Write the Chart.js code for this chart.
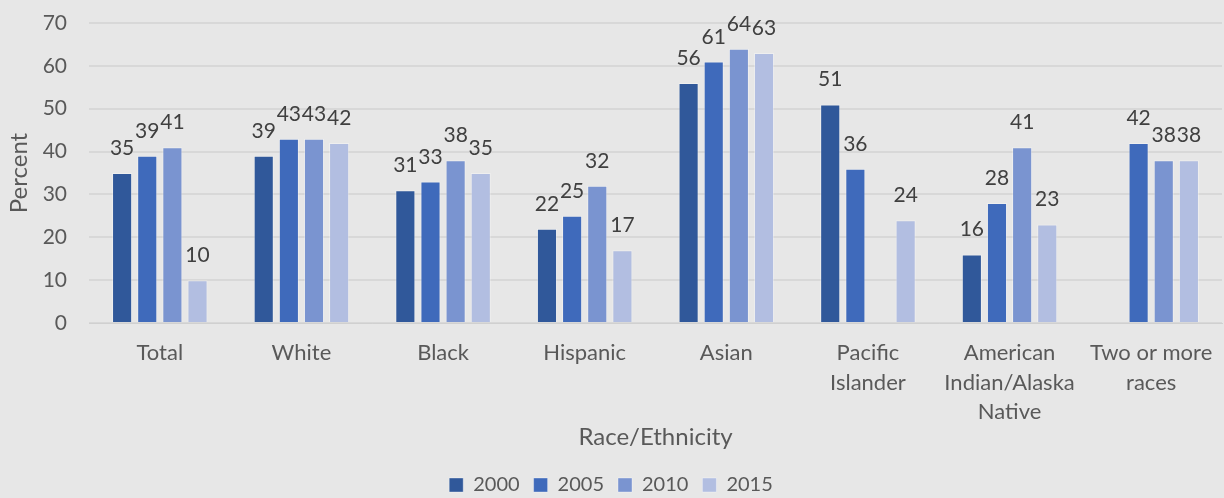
<!DOCTYPE html>
<html lang="en">
<head>
    <meta charset="UTF-8">
    <title>Race/Ethnicity Percent</title>
    <style>
        html, body { margin: 0; padding: 0; background: #e7e7e7; }
        .graph-container { width: 1224px; height: 498px; }
    </style>
</head>
<body>

<div class="graph-container">
    <canvas id="raceChart" width="1224" height="498"></canvas>
</div>

<script src="https://cdn.jsdelivr.net/npm/chart.js"></script>
<script>
    const categories = [
        'Total', 'White', 'Black', 'Hispanic', 'Asian',
        ['Pacific', 'Islander'],
        ['American', 'Indian/Alaska', 'Native'],
        ['Two or more', 'races']
    ];
    const years = ['2000', '2005', '2010', '2015'];
    const values2000 = [35, 39, 31, 22, 56, 51, 16, null];
    const values2005 = [39, 43, 33, 25, 61, 36, 28, 42];
    const values2010 = [41, 43, 38, 32, 64, null, 41, 38];
    const values2015 = [10, 42, 35, 17, 63, 24, 23, 38];
    const yTicks = [0, 10, 20, 30, 40, 50, 60, 70];

    const colors = ['#30589a', '#3f6abb', '#7a94d0', '#b2bee1'];
    const fontFamily = 'Lato, "Open Sans", sans-serif';

    // draws the value above each bar, like the Excel data labels
    const valueLabels = {
        id: 'valueLabels',
        beforeLayout(chart) {
            // keep the legend strip at a fixed height
            const lg = chart.legend;
            if (lg && !lg._fixedFit) {
                const fit = lg.fit;
                lg.fit = function () { fit.call(this); this.height = 37; };
                lg._fixedFit = true;
            }
        },
        afterDatasetsDraw(chart) {
            const c = chart.ctx;
            c.save();
            c.font = '21px ' + fontFamily;
            c.fillStyle = '#404040';
            c.textAlign = 'center';
            c.textBaseline = 'alphabetic';
            chart.data.datasets.forEach((ds, i) => {
                chart.getDatasetMeta(i).data.forEach((bar, j) => {
                    const v = ds.data[j];
                    if (v === null) return;
                    c.fillText(String(v), bar.x, bar.y - 18);
                });
            });
            c.restore();
        }
    };

    const ctx = document.getElementById('raceChart').getContext('2d');
    const seriesValues = [values2000, values2005, values2010, values2015];

    const raceChart = new Chart(ctx, {
        type: 'bar',
        data: {
            labels: categories,
            datasets: years.map((y, i) => ({
                label: y,
                data: seriesValues[i],
                backgroundColor: colors[i],
                borderColor: 'rgba(255,255,255,0.35)',
                borderWidth: 1,
                barPercentage: 0.8,
                categoryPercentage: 0.71
            }))
        },
        options: {
            responsive: false,
            animation: false,
            layout: { padding: { top: 23, right: 2, left: 0, bottom: 0 } },
            plugins: {
                legend: {
                    position: 'bottom',
                    labels: {
                        boxWidth: 14,
                        boxHeight: 14,
                        padding: 14,
                        color: '#595959',
                        font: { family: fontFamily, size: 20 }
                    }
                },
                tooltip: { enabled: false }
            },
            scales: {
                x: {
                    grid: { display: false },
                    border: { display: true, color: '#d0d0d0' },
                    ticks: {
                        color: '#595959',
                        padding: 7,
                        maxRotation: 0,
                        autoSkip: false,
                        font: { family: fontFamily, size: 22, lineHeight: 1.35 }
                    },
                    title: {
                        display: true,
                        text: 'Race/Ethnicity',
                        color: '#595959',
                        font: { family: fontFamily, size: 24 },
                        padding: { top: 2, bottom: 9 }
                    },
                    afterFit(scale) { scale.height = 138; }
                },
                y: {
                    min: 0,
                    max: 70,
                    afterBuildTicks(scale) { scale.ticks = yTicks.map(v => ({ value: v })); },
                    grid: { color: '#d8d8d8', lineWidth: 2, drawTicks: false },
                    border: { display: false },
                    ticks: {
                        color: '#595959',
                        padding: 22,
                        font: { family: fontFamily, size: 21 }
                    },
                    title: {
                        display: true,
                        text: 'Percent',
                        color: '#595959',
                        font: { family: fontFamily, size: 24 },
                        padding: { top: 5, bottom: 0 }
                    },
                    afterFit(scale) {
                        scale.width = 89;
                        scale.paddingTop = 0;
                        scale.paddingBottom = 0;
                    }
                }
            }
        },
        plugins: [valueLabels]
    });
</script>

</body>
</html>
